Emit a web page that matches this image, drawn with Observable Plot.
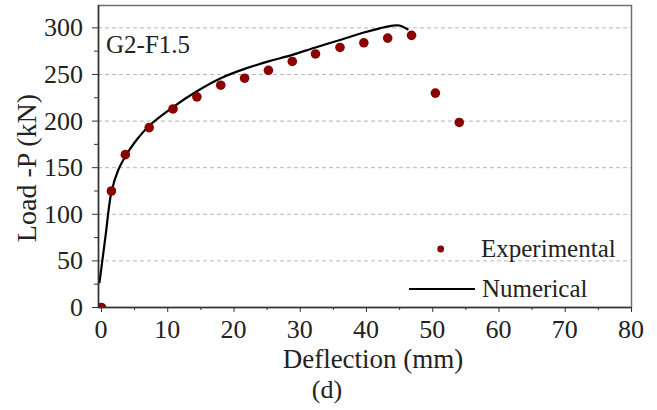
<!DOCTYPE html>
<html>
<head>
<meta charset="utf-8">
<script src="https://cdn.jsdelivr.net/npm/d3@7"></script>
<script src="https://cdn.jsdelivr.net/npm/@observablehq/plot@0.6"></script>
<style>
  html, body { margin: 0; padding: 0; background: #fff; }
</style>
</head>
<body>
<div id="chart"></div>
<script>
// Experimental data (deflection mm, load kN)
const expX = [0, 1.5, 3.6, 7.2, 10.8, 14.4, 18.0, 21.6, 25.2, 28.8, 32.3, 36.0, 39.6, 43.2, 46.8, 50.4, 54.0];
const expY = [0, 125, 164, 193, 213, 226, 238.5, 246, 254.5, 264, 272, 279, 284, 289, 292, 230, 198.5];

// Numerical curve
const numX = [-0.3, 0.6, 1.5, 2.5, 3.6, 5, 7.2, 10.8, 14.4, 18, 21.6, 25.2, 28.8, 32.3, 36, 39.6, 42, 44, 45, 46.2];
const numY = [27, 76, 124, 147, 162, 177, 195, 215, 232, 246, 256, 264, 271, 279, 287, 295, 299.5, 302.5, 302.5, 298.5];

// Axis ticks
const xTicks = [0, 10, 20, 30, 40, 50, 60, 70, 80];
const xMinor = [5, 15, 25, 35, 45, 55, 65, 75];
const yTicks = [0, 50, 100, 150, 200, 250, 300];
const yMinor = [25, 75, 125, 175, 225, 275];
const xDomain = [-0.45, 80];
const yDomain = [0, 324];

const expData = expX.map((x, i) => ({x, y: expY[i]}));
const numData = numX.map((x, i) => ({x, y: numY[i]}));

const maroon = "#8b0000";
const textColor = "#222";
const serif = "Liberation Serif";

const chart = Plot.plot({
  width: 657,
  height: 410,
  marginLeft: 98,
  marginRight: 26,
  marginTop: 5,
  marginBottom: 103,
  x: {domain: xDomain},
  y: {domain: yDomain},
  style: {background: "#fff", color: textColor},
  marks: [
    Plot.ruleY(yTicks.filter(v => v > 0), {stroke: "#b5b5b5", strokeDasharray: "4,3", strokeWidth: 1}),
    Plot.frame({stroke: "#707070", strokeWidth: 1.5}),
    Plot.line(numData, {x: "x", y: "y", curve: "catmull-rom", stroke: "#000", strokeWidth: 2.2}),
    Plot.dot(expData, {x: "x", y: "y", r: 4.8, fill: maroon, stroke: "none", clip: true}),
    Plot.ruleX([xDomain[0]], {stroke: "#333", strokeWidth: 1.5}),
    Plot.ruleY([yDomain[0]], {stroke: "#333", strokeWidth: 1.5}),
    Plot.axisX({ticks: xTicks, tickSize: 5, tickFormat: () => "", label: null, stroke: "#333"}),
    Plot.axisX({ticks: xMinor, tickSize: 3, tickFormat: () => "", label: null, stroke: "#333"}),
    Plot.axisY({ticks: yTicks, tickSize: 6, tickFormat: () => "", label: null, stroke: "#333"}),
    Plot.axisY({ticks: yMinor, tickSize: 4, tickFormat: () => "", label: null, stroke: "#333"})
  ]
});

document.getElementById("chart").appendChild(chart);

const svg = d3.select(chart);
const sx = chart.scale("x");
const sy = chart.scale("y");

function addText(x, y, str, size, anchor, transform) {
  const t = svg.append("text")
    .attr("x", x).attr("y", y)
    .attr("text-anchor", anchor || "start")
    .attr("font-family", serif)
    .attr("font-size", size)
    .attr("fill", textColor)
    .text(str);
  if (transform) t.attr("transform", transform);
  return t;
}

// Tick labels positioned with Plot's own scales
const xBase = sy.apply(yDomain[0]);
xTicks.forEach(v => addText(sx.apply(v), xBase + 31, String(v), 26, "middle"));
const yEdge = sx.apply(xDomain[0]);
yTicks.forEach(v => addText(yEdge - 15, sy.apply(v) + 9, String(v), 26, "end"));

addText(373, 368, "Deflection (mm)", 27, "middle");
addText(327, 397.5, "(d)", 26, "middle");
addText(0, 0, "Load -P (kN)", 28, "middle", "translate(35.5,168) rotate(-90)");
addText(106, 53, "G2-F1.5", 25, "start");

// Legend
svg.append("circle").attr("cx", 440.7).attr("cy", 249).attr("r", 3.4).attr("fill", maroon);
addText(481, 257, "Experimental", 25, "start");
svg.append("line").attr("x1", 409).attr("x2", 475).attr("y1", 289).attr("y2", 289)
  .attr("stroke", "#000").attr("stroke-width", 2.2);
addText(482, 297, "Numerical", 25, "start");
</script>
</body>
</html>
